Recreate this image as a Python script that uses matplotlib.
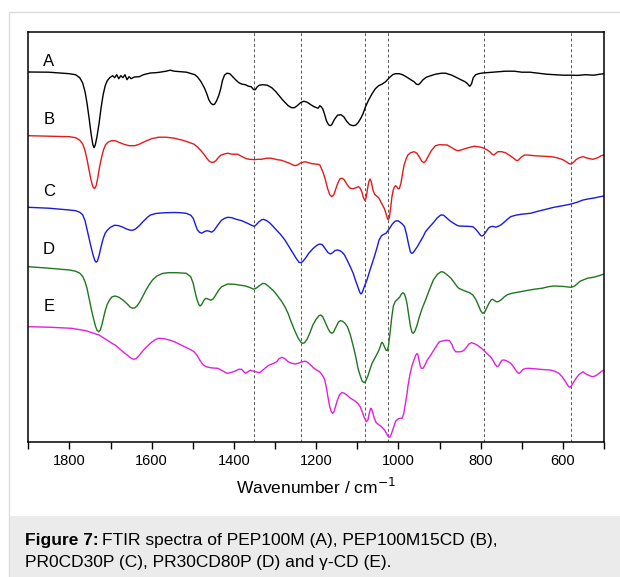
import matplotlib.pyplot as plt
from matplotlib.patches import Rectangle
from matplotlib.ticker import MultipleLocator

plt.rcParams["font.family"] = ["Liberation Sans", "DejaVu Sans"]

# spectra: wavenumber (cm-1) and offset intensity (a.u.)
wn_a = [1900, 1850, 1800, 1785, 1775, 1768, 1762, 1757, 1752, 1747, 1743, 1740, 1737, 1733, 1728,
        1723, 1718, 1713, 1708, 1702, 1695, 1690, 1685, 1680, 1675, 1670, 1665, 1660, 1655, 1650,
        1642, 1630, 1620, 1603, 1590, 1580, 1565, 1555, 1545, 1530, 1515, 1507, 1495, 1488, 1480,
        1472, 1466, 1461, 1456, 1451, 1447, 1442, 1437, 1432, 1428, 1423, 1417, 1410, 1403, 1396,
        1388, 1380, 1372, 1365, 1358, 1352, 1348, 1343, 1338, 1330, 1319, 1308, 1298, 1290, 1282,
        1275, 1268, 1260, 1253, 1246, 1238, 1230, 1222, 1213, 1205, 1199, 1195, 1191, 1188, 1184,
        1180, 1175, 1170, 1166, 1162, 1156, 1148, 1140, 1133, 1125, 1118, 1110, 1104, 1098, 1092,
        1086, 1080, 1072, 1064, 1056, 1048, 1040, 1031, 1022, 1014, 1007, 998, 990, 980, 970,
        962, 956, 951, 946, 940, 932, 925, 910, 895, 885, 870, 858, 848, 838, 832,
        828, 826, 822, 818, 812, 805, 795, 770, 740, 718, 700, 680, 660, 640, 622,
        600, 580, 564, 545, 525, 510, 500]
y_a = [369.7, 369.5, 368, 367, 364, 359, 350, 338, 323, 307, 297, 294, 297, 305, 318,
       334, 347, 356, 361, 364, 366, 364, 367, 363, 366, 364, 367, 362, 365, 363,
       364.7, 365, 367, 368.7, 369, 369.5, 370.5, 371.5, 370.5, 370, 369.5, 368.5, 367, 364.5, 360,
       354, 348, 342, 338.5, 337, 337.5, 341, 346, 353, 361, 366.5, 368.5, 368, 365, 362,
       359, 357.5, 357, 355.5, 355, 352, 352, 355, 356.5, 357, 356.5, 354, 350, 346, 342,
       339, 336, 334, 334, 336, 339, 340.5, 339.5, 337, 335, 334, 333.5, 336, 335, 333,
       328, 321, 317, 316, 317, 322, 326.5, 327, 325, 320, 317, 316, 316.5, 319, 323,
       328, 335, 342, 348, 353, 356, 357.5, 360, 364, 367, 368, 368, 367, 364.7, 362,
       360, 357.5, 357, 359, 362, 364.5, 365.5, 367.5, 368.5, 368.5, 366.5, 364, 362, 360, 358,
       356, 355.5, 358, 364, 367, 368, 368.7, 369.5, 370.5, 370.5, 369.5, 369.5, 368.5, 367.5, 367,
       366.5, 366.5, 366.3, 367, 366.5, 367.5, 368]

wn_b = [1900, 1850, 1800, 1785, 1775, 1768, 1762, 1757, 1752, 1747, 1743, 1739, 1735, 1731, 1727,
        1722, 1717, 1712, 1706, 1698, 1689, 1680, 1668, 1655, 1641, 1630, 1615, 1600, 1583, 1565,
        1545, 1525, 1510, 1497, 1488, 1480, 1473, 1466, 1460, 1454, 1449, 1444, 1438, 1432, 1425,
        1415, 1405, 1391, 1380, 1370, 1362, 1350, 1340, 1333, 1320, 1310, 1304, 1295, 1285, 1275,
        1265, 1258, 1251, 1244, 1237, 1227, 1218, 1210, 1203, 1197, 1191, 1187, 1182, 1177, 1172,
        1167, 1162, 1157, 1152, 1147, 1142, 1137, 1132, 1126, 1121, 1117, 1110, 1103, 1097, 1093,
        1089, 1085, 1081, 1078, 1075, 1072, 1069, 1066, 1062, 1058, 1054, 1048, 1043, 1038, 1034,
        1030, 1027, 1025, 1022, 1019, 1016, 1013, 1010, 1007, 1004, 1001, 998, 994, 990, 986,
        981, 977, 970, 962, 955, 948, 943, 938, 933, 928, 920, 910, 900, 890, 881,
        870, 860, 853, 842, 830, 815, 807, 800, 792, 785, 778, 772, 768, 764, 758,
        749, 740, 730, 720, 714, 710, 705, 700, 693, 686, 670, 650, 628, 615, 600,
        590, 585, 580, 575, 568, 560, 551, 540, 527, 515, 507, 500]
y_b = [306, 305.5, 305, 304, 301.5, 298, 291, 282, 271, 261, 255, 253, 256, 264, 274,
       284, 292, 297, 299.5, 301, 301, 299.5, 297.5, 296, 296, 297.5, 300.5, 303, 304.5, 304.5,
       303.5, 301.5, 299.5, 297.5, 294.5, 291, 287.5, 283.5, 280.5, 279.3, 279.5, 281, 284, 286.5, 287.5,
       288.5, 287.5, 287.5, 285, 283, 282.4, 282, 282.5, 282.4, 283.5, 283.5, 283, 282, 281.5, 280,
       278.5, 277, 276, 277, 279, 280, 279, 278, 277.7, 277.5, 276.7, 273, 268, 261, 253,
       247, 245, 247, 253, 259, 263, 263.5, 262, 258, 255, 253.4, 253, 254, 255, 253.5,
       250, 244, 241, 245, 253, 260, 262.7, 260, 252, 247.5, 246, 244, 240, 236, 233,
       228, 223.5, 222, 224, 233, 244, 251, 254.5, 256, 255, 253, 253, 258, 268, 277,
       283, 286.7, 289, 290, 288.5, 284, 280.5, 279, 281, 285, 291, 296, 297, 296.8, 296.7,
       294, 291.5, 291, 292.5, 294, 295.5, 295, 294.5, 293.5, 292, 290, 287.5, 286.7, 288, 290,
       290, 289, 286.5, 283.5, 281.5, 281, 283, 285, 286.7, 286.7, 286, 285.5, 285, 284, 282,
       279.5, 278, 277.7, 279, 282, 284, 285, 283.5, 282.4, 284, 286, 286.7]

wn_c = [1900, 1850, 1800, 1785, 1775, 1768, 1762, 1757, 1752, 1747, 1742, 1738, 1735, 1732, 1728,
        1723, 1718, 1713, 1708, 1700, 1690, 1680, 1670, 1660, 1652, 1646, 1640, 1630, 1620, 1610,
        1603, 1590, 1575, 1564, 1545, 1530, 1516, 1505, 1499, 1494, 1489, 1484, 1478, 1472, 1466,
        1460, 1454, 1448, 1439, 1430, 1422, 1415, 1405, 1395, 1381, 1370, 1360, 1352, 1348, 1340,
        1333, 1328, 1320, 1312, 1304, 1295, 1286, 1276, 1266, 1256, 1248, 1242, 1238, 1233, 1226,
        1218, 1208, 1198, 1191, 1185, 1178, 1171, 1165, 1160, 1154, 1148, 1142, 1136, 1131, 1124,
        1117, 1110, 1104, 1098, 1094, 1091, 1088, 1083, 1077, 1069, 1060, 1052, 1047, 1041, 1035,
        1030, 1022, 1015, 1008, 1001, 996, 990, 985, 980, 975, 971, 968, 964, 959, 954,
        947, 940, 934, 926, 915, 905, 897, 890, 883, 875, 866, 858, 853, 840, 828,
        819, 812, 805, 800, 797, 793, 787, 781, 776, 770, 763, 757, 751, 744, 736,
        727, 715, 700, 679, 660, 640, 622, 600, 580, 565, 551, 535, 520, 510, 500]
y_c = [234.4, 233.5, 231.7, 231, 229.5, 227, 221, 212, 203, 194, 186, 181, 179.5, 180.5, 186,
       195, 203, 208.5, 211.5, 214.5, 216.5, 216, 214.5, 212.5, 211.5, 211.5, 212.5, 216, 220.5, 224.5,
       226.7, 228.2, 228.8, 229, 229.2, 229, 228.4, 226.5, 223.4, 217.5, 212, 209.5, 208.5, 210, 211,
       210.5, 209.5, 211.5, 216.7, 221.5, 223.5, 224.4, 224, 222.5, 221, 219, 217, 215.5, 216, 219.5,
       221.8, 222.4, 221, 218.5, 215, 211, 207, 201.7, 195, 188.4, 183, 179.5, 179, 180, 183.5,
       188.4, 193, 196.5, 197.7, 197, 193, 189, 187.7, 189, 191.2, 191.7, 191, 189.2, 186.7, 181,
       175, 168.5, 161, 154, 149.5, 147.7, 149, 155, 161, 171.7, 183, 194, 201.7, 206, 207.5,
       208.4, 213, 217.5, 220.5, 221, 219.5, 217.5, 215, 207, 197, 190, 188.4, 189, 192, 195,
       200, 205, 210, 214, 219, 224, 226.7, 226.5, 224, 221, 218.5, 216.5, 215.7, 215.5, 215.3,
       215, 212.5, 209, 206.2, 205.7, 206.5, 210, 213.5, 215, 215.3, 214.5, 215.5, 216.7, 219, 222,
       225, 226.5, 227.5, 228.4, 230.5, 232.5, 234.4, 236, 237.7, 239.5, 241.7, 243, 244, 245, 245.7]

wn_d = [1900, 1850, 1800, 1785, 1775, 1768, 1762, 1757, 1752, 1747, 1742, 1737, 1733, 1729, 1725,
        1721, 1717, 1713, 1708, 1702, 1696, 1689, 1680, 1670, 1660, 1652, 1646, 1641, 1635, 1628,
        1622, 1614, 1606, 1598, 1588, 1574, 1560, 1540, 1516, 1505, 1499, 1494, 1489, 1485, 1482,
        1478, 1472, 1468, 1462, 1456, 1450, 1444, 1437, 1430, 1415, 1400, 1385, 1372, 1360, 1352,
        1346, 1338, 1330, 1324, 1316, 1304, 1295, 1285, 1276, 1268, 1260, 1251, 1243, 1236, 1232,
        1228, 1222, 1215, 1208, 1200, 1193, 1189, 1184, 1178, 1171, 1166, 1162, 1158, 1152, 1146,
        1141, 1136, 1130, 1124, 1117, 1110, 1104, 1098, 1092, 1088, 1083, 1079, 1074, 1069, 1064,
        1058, 1053, 1049, 1045, 1042, 1040, 1037, 1033, 1030, 1027, 1024, 1020, 1016, 1012, 1008,
        1003, 997, 993, 989, 985, 982, 979, 975, 971, 967, 964, 960, 955, 949, 942,
        934, 925, 915, 905, 896, 890, 882, 872, 864, 858, 853, 840, 827, 819, 812,
        806, 800, 795, 790, 785, 779, 774, 771, 766, 762, 757, 750, 742, 735, 724,
        710, 690, 671, 650, 635, 622, 600, 590, 580, 572, 565, 558, 551, 540, 525, 512, 500]
y_d = [175, 173.5, 171.7, 170.5, 168.5, 165.5, 160, 153, 143, 133, 124, 116, 111.5, 110, 111.5,
       117, 124, 131, 137.5, 142, 145, 145.7, 144.5, 141.7, 138, 134.5, 133.4, 133.8, 136, 140.5,
       145, 151.5, 157, 161.7, 165.5, 168.2, 169, 169, 168.4, 165, 158.4, 149, 141, 137, 135.7,
       137.5, 142, 143.4, 142.5, 141.5, 143, 147, 151.5, 155, 157.7, 157.5, 156.5, 155.7, 154, 152.5,
       153.5, 156, 158.3, 158, 155.5, 151, 146.5, 141, 135, 128, 119, 110, 103, 99, 98.4,
       99, 102.5, 109, 116.7, 122.5, 126, 126.7, 125, 119.5, 113, 109.5, 108.4, 109.5, 114.5, 119.5,
       121, 120.5, 118.5, 115, 107, 96, 85.5, 73, 65, 60.5, 59, 61, 66, 72.5, 78.4,
       83, 87, 90, 94, 98, 99.4, 98, 94, 91.5, 91, 96, 110, 125, 136, 140,
       142, 144.4, 147.5, 149, 147.5, 143.5, 138, 127, 116, 109.5, 108.4, 110.5, 116, 125, 133.5,
       141.7, 151.5, 161.7, 167.5, 170, 169.5, 167, 163.4, 159, 155.5, 153.4, 151, 149, 146.7, 142.5,
       137, 131, 128.4, 129.5, 134, 139, 142, 142.4, 141, 140, 140, 142, 145, 147, 148.4,
       149.5, 151, 152.4, 153.5, 155, 155.7, 155.3, 154.8, 154.4, 155.5, 158, 160.5, 161.7, 163.5, 164.5, 166, 167.7]

wn_e = [1900, 1850, 1795, 1760, 1728, 1710, 1695, 1689, 1680, 1670, 1660, 1650, 1644, 1638, 1630,
        1620, 1612, 1600, 1590, 1583, 1570, 1555, 1545, 1530, 1515, 1505, 1497, 1490, 1482, 1475,
        1468, 1455, 1439, 1428, 1420, 1415, 1405, 1395, 1388, 1381, 1376, 1372, 1366, 1360, 1357,
        1348, 1338, 1330, 1320, 1314, 1305, 1296, 1290, 1283, 1276, 1268, 1260, 1251, 1243, 1235,
        1228, 1223, 1215, 1207, 1199, 1192, 1186, 1182, 1179, 1175, 1171, 1167, 1163, 1160, 1157,
        1153, 1148, 1143, 1138, 1133, 1125, 1118, 1112, 1105, 1098, 1093, 1088, 1083, 1078, 1074,
        1071, 1068, 1066, 1063, 1059, 1054, 1048, 1044, 1040, 1034, 1030, 1026, 1023, 1020, 1016,
        1012, 1008, 1006, 1000, 995, 991, 987, 983, 979, 977, 972, 967, 962, 958, 955,
        953, 950, 947, 944, 940, 935, 930, 924, 917, 910, 904, 900, 890, 883, 876,
        870, 866, 861, 855, 848, 842, 835, 829, 823, 815, 808, 800, 795, 788, 782,
        776, 770, 765, 761, 759, 756, 752, 748, 743, 738, 733, 727, 720, 714, 710,
        706, 702, 697, 690, 684, 670, 650, 631, 620, 610, 602, 595, 590, 586, 583,
        579, 574, 567, 560, 551, 545, 538, 532, 527, 520, 513, 507, 500]
y_e = [115, 114.5, 113.4, 111, 106.7, 102, 98, 96.7, 93.5, 90, 86.7, 83.5, 82.4, 83, 86.5,
       91.5, 95, 99.5, 102.3, 103.4, 103, 101.5, 100, 97, 94, 92, 90, 86.5, 81, 77,
       75, 73.8, 73.4, 71, 69, 68.4, 69.5, 71, 72.5, 72.4, 70, 68.4, 70, 71.5, 71,
       70, 69, 71.5, 75, 76.7, 78, 80, 83, 84.4, 83, 80, 78.5, 77.7, 78.5, 79.8,
       80.5, 80, 77.5, 74, 71.7, 70, 67, 64.5, 61.7, 54, 44, 35, 30, 28.4, 29.5,
       35, 42, 47, 49, 48.8, 46.5, 44, 42.4, 40.5, 38, 35, 30, 24, 20, 22,
       28, 33, 33.4, 30, 24, 19, 17, 16, 14.4, 12, 9, 6, 4.4, 5, 9,
       14, 19, 21, 23, 23.5, 23.4, 28, 38, 48, 55, 67, 76, 82, 86.5, 88,
       87.7, 82, 76, 73.4, 73.4, 77, 81.5, 85, 89.5, 94, 98, 100, 101, 101.5, 101,
       97.5, 93, 90, 89.8, 90, 91, 94, 97.5, 99, 98, 96.5, 94, 92.4, 89.5, 87,
       85, 81.5, 77.5, 75.5, 75, 76, 79, 81.5, 81.7, 81, 80, 78.4, 75, 71, 69,
       68.4, 70, 72.3, 73.2, 73.4, 73, 72.2, 71.7, 70.5, 68.5, 65, 61, 57.5, 55, 54.4,
       56, 59.5, 64, 67.5, 70, 68, 66.5, 65.5, 65, 66, 68, 70, 71.7]

labels = ["A", "B", "C", "D", "E"]
label_y = [380, 322, 250, 192, 135]
colors = ["#000000", "#e31a1c", "#1a1ae0", "#1f771f", "#e020e0"]
marker_lines = [1350, 1236, 1082, 1026, 793, 580]

fig = plt.figure(figsize=(6.2, 5.77), dpi=100)

# card frame and caption box (behind the axes)
fig.patches.append(Rectangle((9 / 620, 0), 1.0, 1 - 12 / 577, transform=fig.transFigure,
                             facecolor="white", edgecolor="#dcdcdc", linewidth=1.0, zorder=-3))
fig.patches.append(Rectangle((9.5 / 620, 0), 1.0, 61 / 577, transform=fig.transFigure,
                             facecolor="#ebebeb", edgecolor="none", zorder=-2))

ax = fig.add_axes([28.3 / 620, 1 - 441.7 / 577, 575.7 / 620, 409.4 / 577])
ax.set_zorder(1)

for wn in marker_lines:
    ax.axvline(wn, color="#555555", linestyle=(0, (3, 2.5)), linewidth=0.7, zorder=1)

series = [(wn_a, y_a), (wn_b, y_b), (wn_c, y_c), (wn_d, y_d), (wn_e, y_e)]
for (x, y), c in zip(series, colors):
    ax.plot(x, y, color=c, linewidth=1.0, zorder=2, solid_joinstyle="round")

for lab, ly in zip(labels, label_y):
    ax.text(1850, ly, lab, fontsize=12, ha="center", va="center")

ax.set_xlim(1900, 500)
ax.set_ylim(0, 409.4)
ax.xaxis.set_major_locator(MultipleLocator(200))
ax.xaxis.set_minor_locator(MultipleLocator(100))
ax.tick_params(axis="x", which="both", direction="out", length=5, width=1.0, labelsize=10.5, pad=4)
ax.tick_params(axis="y", left=False, labelleft=False)
for sp in ax.spines.values():
    sp.set_linewidth(1.1)
ax.set_xlabel("Wavenumber / cm$^{-1}$", fontsize=12.5, labelpad=6)

# caption with bold lead-in
fig.canvas.draw()
renderer = fig.canvas.get_renderer()
t1 = fig.text(25 / 620, 1 - 540 / 577, "Figure 7:", fontsize=12.5, fontweight="bold", va="center")
bb = t1.get_window_extent(renderer=renderer)
fig.text(bb.x1 / fig.bbox.width + 3 / 620, 1 - 540 / 577,
         "FTIR spectra of PEP100M (A), PEP100M15CD (B),", fontsize=12.5, va="center")
fig.text(25 / 620, 1 - 562 / 577, "PR0CD30P (C), PR30CD80P (D) and γ-CD (E).", fontsize=12.5, va="center")

fig.savefig("out.png", dpi=100)
